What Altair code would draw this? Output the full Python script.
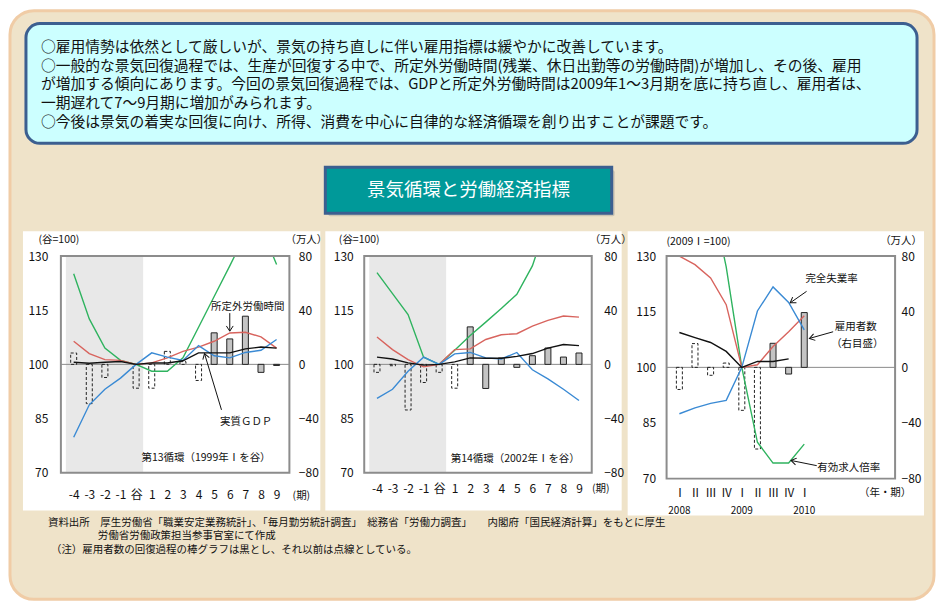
import json
import math
import altair as alt
import pandas as pd

FONT = "Noto Sans CJK JP"

# ---------------- data ----------------
cycle_labels = ["-4", "-3", "-2", "-1", "谷", "1", "2", "3", "4", "5", "6", "7", "8", "9"]
recent_labels = ["Ⅰ", "Ⅱ", "Ⅲ", "Ⅳ", "Ⅰ", "Ⅱ", "Ⅲ", "Ⅳ", "Ⅰ"]
recent_years = ["2008", "2009", "2010"]
recent_year_index = [0, 4, 8]

series_names = ["有効求人倍率", "所定外労働時間", "完全失業率", "実質GDP"]
series_colors = ["#2fb35f", "#d8645e", "#3a8ad4", "#111111"]

# 第13循環 (1999年Ⅰを谷)
c13_jobs = [125.1, 112.6, 104.5, 101.1, 100.0, 98.1, 98.1, 101.8, 110.3, 118.8, 127.3, 136.0, 138.0, 127.7]
c13_hours = [106.4, 103.0, 101.3, 101.1, 100.0, 100.4, 101.8, 103.6, 104.8, 106.4, 108.7, 108.9, 107.6, 104.5]
c13_unemp = [79.8, 88.8, 93.1, 96.2, 100.0, 103.2, 102.0, 101.1, 105.2, 102.4, 101.8, 103.3, 103.9, 106.9]
c13_gdp = [100.6, 100.3, 100.6, 100.8, 100.0, 100.4, 100.4, 101.0, 103.2, 103.2, 103.2, 104.3, 104.8, 104.5]
c13_emp = [8.4, -29.0, -9.7, None, -17.6, -17.6, 9.6, 2.0, -11.9, 23.3, 18.8, 35.6, -5.9, -0.8]
c13_first_solid = 9

# 第14循環 (2002年Ⅰを谷)
c14_jobs = [125.4, 119.6, 113.8, 102.0, 100.0, 103.9, 108.0, 111.7, 115.5, 119.4, 127.3, 140.0, 148.0, 155.0]
c14_hours = [107.6, 104.1, 101.3, 99.3, 100.0, 104.1, 104.3, 106.9, 108.2, 108.5, 110.6, 112.2, 113.4, 113.1]
c14_unemp = [90.6, 93.1, 98.1, 102.0, 100.0, 102.9, 103.3, 101.8, 101.5, 103.3, 98.5, 96.0, 93.1, 90.0]
c14_gdp = [102.0, 101.5, 100.4, 99.8, 100.0, 100.7, 101.8, 101.7, 101.7, 102.2, 103.0, 104.5, 105.5, 105.2]
c14_emp = [-5.9, -1.0, -33.7, -13.4, -5.9, -17.6, 27.7, -17.8, 4.7, -2.2, 6.4, 12.1, 5.4, 8.4]
c14_first_solid = 6

# 2008Ⅰ～2010Ⅰ (2009Ⅰ=100)
r_jobs = [161.0, 156.0, 147.0, 127.1, 100.0, 79.8, 74.2, 74.2, 79.3]
r_hours = [130.0, 127.7, 124.1, 116.9, 100.0, 100.7, 105.6, 109.6, 113.9]
r_unemp = [87.5, 89.1, 90.3, 91.1, 100.0, 115.2, 121.7, 117.5, 110.1]
r_gdp = [109.4, 108.0, 106.7, 104.3, 100.0, 101.6, 101.6, 102.3, None]
r_emp = [-15.9, 17.1, -5.7, 3.1, -30.9, -58.7, 17.3, -4.8, 39.4]
r_first_solid = 6

header_lines = [
    "○雇用情勢は依然として厳しいが、景気の持ち直しに伴い雇用指標は緩やかに改善しています。",
    "○一般的な景気回復過程では、生産が回復する中で、所定外労働時間(残業、休日出勤等の労働時間)が増加し、その後、雇用",
    "が増加する傾向にあります。今回の景気回復過程では、GDPと所定外労働時間は2009年1～3月期を底に持ち直し、雇用者は、",
    "一期遅れて7～9月期に増加がみられます。",
    "○今後は景気の着実な回復に向け、所得、消費を中心に自律的な経済循環を創り出すことが課題です。",
]
title_text = "景気循環と労働経済指標"
footer_lines = [
    "資料出所　厚生労働省「職業安定業務統計」、「毎月勤労統計調査」　総務省「労働力調査」　　内閣府「国民経済計算」をもとに厚生",
    "労働省労働政策担当参事官室にて作成",
    "（注）雇用者数の回復過程の棒グラフは黒とし、それ以前は点線としている。",
]

# ---------------- helpers ----------------
BLANK = alt.Data(values=[{}])
ARROW = "M-0.65,1L0,0L0.65,1"


def lines_df(*series):
    rows = []
    for name, vals in zip(series_names, series):
        for i, v in enumerate(vals):
            if v is not None:
                rows.append({"i": i, "v": v, "s": name})
    return pd.DataFrame(rows)


def bars_df(vals, first_solid):
    return pd.DataFrame([{"i": i, "v": v, "solid": i >= first_solid}
                         for i, v in enumerate(vals) if v is not None])


def vtext(txt, x, y, size=11, align="center", color="#111", weight="normal"):
    return alt.Chart(BLANK).mark_text(text=txt, align=align, baseline="middle", fontSize=size,
                                      font=FONT, color=color, fontWeight=weight).encode(
        x=alt.value(x), y=alt.value(y))


def vrect(x0, y0, x1, y1, **kw):
    return alt.Chart(BLANK).mark_rect(**kw).encode(
        x=alt.value(x0), x2=alt.value(x1), y=alt.value(y0), y2=alt.value(y1))


def make_panel(w, h, xlabels, jobs, hours, unemp, gdp, emp, first_solid,
               xpad, lpad, rpad, white, shade_to, ann_texts, arrows, value_texts,
               before=(), year_row=False, xfont=12):
    xs = alt.Scale(domain=[-0.5, 13.5], nice=False, zero=False)
    ysl = alt.Scale(domain=[70, 130], nice=False, zero=False)
    ysr = alt.Scale(domain=[-80, 80], nice=False, zero=False)
    expr = json.dumps(xlabels, ensure_ascii=False) + "[datum.value]"
    common = dict(title=None, domain=False, ticks=False, tickSize=0, grid=False,
                  labelFont=FONT, labelColor="#111",
                  labelFlush=False, labelOverlap=False, zindex=2)
    xax = alt.Axis(values=list(range(len(xlabels))), labelExpr=expr, labelPadding=xpad,
                   labelAngle=0, labelFontSize=xfont, **common)
    ylax = alt.Axis(values=[70, 85, 100, 115, 130], orient="left", labelPadding=lpad,
                    labelFontSize=12, **common)
    yrax = alt.Axis(values=[-80, -40, 0, 40, 80], orient="right", labelPadding=rpad,
                    labelFontSize=12, **common)

    XF = alt.X("i:Q", scale=xs, axis=xax)

    def XD(v):
        return alt.XDatum(v, type="quantitative", scale=xs, axis=xax)

    def YLD(v):
        return alt.YDatum(v, type="quantitative", scale=ysl, axis=ylax)

    def YRD(v):
        return alt.YDatum(v, type="quantitative", scale=ysr, axis=yrax)

    # ----- right-scale group (background, bars) -----
    right = list(before)
    right.append(vrect(*white, fill="white"))
    if shade_to is not None:
        right.append(alt.Chart(BLANK).mark_rect(fill="#e8e8e8").encode(
            x=XD(-0.5), x2=alt.X2Datum(shade_to), y=alt.value(0), y2=alt.value(h)))
    right.append(alt.Chart(BLANK).mark_rule(color="#8a8a8a", strokeWidth=1).encode(
        y=YRD(0), x=alt.value(0), x2=alt.value(w)))
    bd = bars_df(emp, first_solid)
    yr = alt.Y("v:Q", scale=ysr, axis=yrax)
    right.append(alt.Chart(bd).transform_filter("!datum.solid").mark_bar(
        size=6, fill="white", fillOpacity=0, stroke="#222", strokeWidth=1, strokeDash=[3, 2]).encode(
        x=XF, y=yr, y2=alt.Y2Datum(0)))
    right.append(alt.Chart(bd).transform_filter("datum.solid").mark_bar(
        size=6, fill="#c4c4c4", stroke="#222", strokeWidth=1).encode(
        x=XF, y=yr, y2=alt.Y2Datum(0)))
    right_layer = alt.layer(*right)

    # ----- left-scale group (lines, annotations) -----
    left = []
    ld = lines_df(jobs, hours, unemp, gdp)
    left.append(alt.Chart(ld).mark_line(clip=True, strokeWidth=1.4).encode(
        x=XF, y=alt.Y("v:Q", scale=ysl, axis=ylax),
        color=alt.Color("s:N", scale=alt.Scale(domain=series_names, range=series_colors), legend=None),
        detail="s:N"))
    left.append(vrect(0, 0, w, h, fillOpacity=0, stroke="#8c8c8c", strokeWidth=2))
    for txt, x, y in ann_texts:
        left.append(alt.Chart(BLANK).mark_text(text=txt, fontSize=10.5, font=FONT, color="#111",
                                               align="center", baseline="middle").encode(
            x=XD(x), y=YLD(y)))
    for (x1, y1, x2, y2) in arrows:
        left.append(alt.Chart(BLANK).mark_rule(color="#111", strokeWidth=1).encode(
            x=XD(x1), x2=alt.X2Datum(x2), y=YLD(y1), y2=alt.Y2Datum(y2)))
        dxp = (x2 - x1) * w / 14.0
        dyp = -(y2 - y1) * h / 60.0
        ang = math.degrees(math.atan2(dxp, -dyp)) % 360
        left.append(alt.Chart(BLANK).mark_point(shape=ARROW, angle=ang, size=110, filled=False,
                                                stroke="#111", strokeWidth=1, opacity=1).encode(
            x=XD(x2), y=YLD(y2)))
    for txt, x, y in value_texts:
        left.append(vtext(txt, x, y, size=10.5))
    if year_row:
        left.append(alt.Chart(pd.DataFrame({"i": recent_year_index, "t": recent_years})).mark_text(
            fontSize=10, font=FONT, color="#111", baseline="middle").encode(
            x=XF, y=alt.value(h + 32), text="t:N"))
    left_layer = alt.layer(*left)

    return alt.layer(right_layer, left_layer).resolve_scale(y="independent").properties(
        width=w, height=h)


# ---------------- decorations (relative to panel-1 plot origin) ----------------
deco = [
    vrect(-52, -247, 876, 346, fill="white"),
    vrect(-51, -246, 875, 344, fill="#efe3c9", stroke="#f0cca6", strokeWidth=3, cornerRadius=24),
    vrect(-35, -233, 858, -113, fill="#ccffff", stroke="#3c5f90", strokeWidth=3, cornerRadius=14),
]
for line, yy in zip(header_lines, [-209, -190, -171, -152, -133]):
    deco.append(vtext(line, -20, yy, size=14.8, align="left"))
deco.append(vrect(268, -86, 555, -40, fill="#8a8a8a", opacity=0.35, cornerRadius=2))
deco.append(vrect(265, -89, 552, -43, fill="#009999", stroke="#3c5f90", strokeWidth=3))
deco.append(vtext(title_text, 408.5, -66, size=18.5, color="white"))
for line, (xx, yy) in zip(footer_lines, [(-13, 267), (37, 281), (-10, 295)]):
    deco.append(vtext(line, xx, yy, size=10.5, align="left"))

p1 = make_panel(
    229, 217, cycle_labels, c13_jobs, c13_hours, c13_unemp, c13_gdp, c13_emp, c13_first_solid,
    xpad=17, lpad=13, rpad=9, white=(-38, -25, 260, 255), shade_to=4.45,
    ann_texts=[("所定外労働時間", 11.15, 115.9), ("実質ＧＤＰ", 11.05, 84.1),
               ("第13循環（1999年Ⅰを谷）", 8.48, 74.1)],
    arrows=[(10.0, 114.2, 10.0, 109.2), (9.47, 87.4, 8.38, 103.0)],
    value_texts=[("(谷=100)", -2, -16), ("（万人）", 246, -16), ("(期)", 241, 240)],
    before=deco)

p2 = make_panel(
    228, 217, cycle_labels, c14_jobs, c14_hours, c14_unemp, c14_gdp, c14_emp, c14_first_solid,
    xpad=11, lpad=11, rpad=12, white=(-39, -25, 258, 255), shade_to=4.45,
    ann_texts=[("第14循環（2002年Ⅰを谷）", 8.9, 73.7)],
    arrows=[],
    value_texts=[("(谷=100)", -5, -16), ("（万人）", 247, -16), ("(期)", 237, 233)])

p3 = make_panel(
    229, 223, recent_labels, r_jobs, r_hours, r_unemp, r_gdp, r_emp, r_first_solid,
    xpad=9, lpad=11, rpad=6, white=(-39, -25, 258, 260), shade_to=None,
    ann_texts=[("完全失業率", 9.75, 123.9), ("雇用者数", 11.3, 111.0), ("（右目盛）", 11.4, 106.4),
               ("有効求人倍率", 10.85, 72.9)],
    arrows=[(8.15, 120.5, 7.1, 117.4), (9.85, 109.6, 8.33, 107.8), (8.8, 73.5, 7.15, 74.9)],
    value_texts=[("(2009Ⅰ=100)", 32, -14), ("（万人）", 235, -15), ("（年・期）", 219, 237)],
    year_row=True, xfont=11.5)

chart = alt.hconcat(p1, p2, p3, spacing=75, bounds="flush").properties(
    padding=0, background="white").configure_view(stroke=None).configure(font=FONT)

chart.save("out.html", embed_options={"renderer": "svg", "actions": False})
